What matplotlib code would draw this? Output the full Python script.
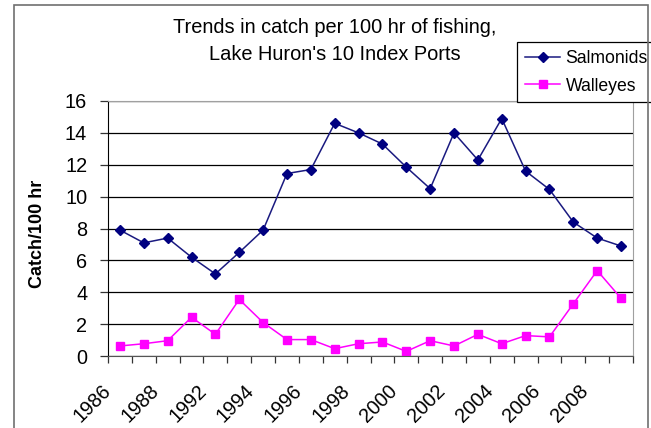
import matplotlib
matplotlib.use("Agg")
import matplotlib.pyplot as plt
from matplotlib.patches import Rectangle

# categories (22 sampling years), only every other one is labelled
years = ["1986", "1987", "1988", "1991", "1992", "1993", "1994", "1995",
         "1996", "1997", "1998", "1999", "2000", "2001", "2002", "2003",
         "2004", "2005", "2006", "2007", "2008", "2009"]
salmonids = [7.9, 7.1, 7.4, 6.2, 5.15, 6.5, 7.9, 11.45, 11.7, 14.6, 14.0,
             13.3, 11.85, 10.5, 14.0, 12.3, 14.9, 11.6, 10.45, 8.4, 7.4, 6.9]
walleyes = [0.63, 0.77, 0.96, 2.43, 1.36, 3.55, 2.1, 1.03, 1.03, 0.46, 0.77,
            0.88, 0.29, 0.96, 0.63, 1.36, 0.77, 1.28, 1.2, 3.28, 5.36, 3.62]
yticks = [0, 2, 4, 6, 8, 10, 12, 14, 16]

plt.rcParams["font.family"] = ["Liberation Sans", "DejaVu Sans"]

fig = plt.figure(figsize=(6.51, 4.28), dpi=100)
ax = fig.add_axes([108 / 651, 1 - 356 / 428, 525 / 651, 255 / 428])

x = list(range(len(years)))
ax.plot(x, salmonids, color="#1a1a80", lw=1.1, marker="D", markersize=4.6,
        markerfacecolor="#000080", markeredgecolor="#000080", label="Salmonids")
ax.plot(x, walleyes, color="#ff00ff", lw=1.1, marker="s", markersize=5.3,
        markerfacecolor="#ff00ff", markeredgecolor="#ff00ff", label="Walleyes")

ax.set_xlim(-0.5, len(years) - 0.5)
ax.set_ylim(0, 16)
ax.set_yticks(yticks)
ax.yaxis.grid(True, color="black", lw=0.9)
ax.set_axisbelow(True)

# tick marks on category boundaries, label on every second one
bounds = [i - 0.5 for i in range(len(years) + 1)]
labels = [years[i] if (i < len(years) and i % 2 == 0) else "" for i in range(len(bounds))]
ax.set_xticks(bounds)
ax.set_xticklabels(labels, rotation=45, ha="right", va="center",
                   rotation_mode="anchor", fontsize=14.3)
ax.tick_params(axis="x", length=5, width=0.9, pad=18, color="#333333")
ax.tick_params(axis="y", length=6, width=0.9, pad=9, labelsize=14.3, color="#333333")

for s in ["top", "right"]:
    ax.spines[s].set_color("#a0a0a0")
ax.spines["left"].set_color("black")
ax.spines["bottom"].set_color("#555555")

fig.text(38 / 651, 1 - 234 / 428, "Catch/100 hr", rotation=90, ha="center",
         va="center", fontsize=13, fontweight="bold")

fig.text(335 / 651, 1 - 33 / 428, "Trends in catch per 100 hr of fishing,",
         ha="center", va="baseline", fontsize=14.4)
fig.text(335 / 651, 1 - 60 / 428, "Lake Huron's 10 Index Ports",
         ha="center", va="baseline", fontsize=14.4)

leg = ax.legend(loc="upper left", bbox_to_anchor=(517 / 651, 1 - 42 / 428),
                bbox_transform=fig.transFigure, fontsize=12.7, frameon=True,
                fancybox=False, edgecolor="black", framealpha=1,
                handlelength=2.0, handletextpad=0.3, borderpad=0.45,
                labelspacing=0.6, borderaxespad=0)
leg.get_frame().set_linewidth(0.9)

fig.patches.append(Rectangle((14 / 651, -0.02), 634 / 651, 1.02 - 5 / 428,
                             transform=fig.transFigure, fill=False,
                             edgecolor="#707070", lw=1.2))

fig.savefig("out.png", dpi=100)
